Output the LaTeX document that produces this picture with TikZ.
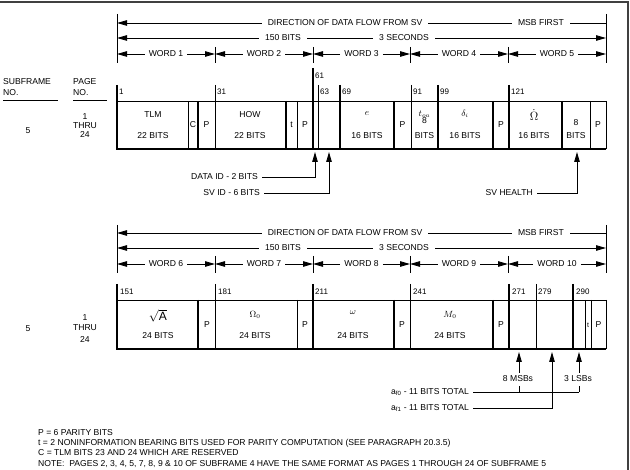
\documentclass[tikz,border=0pt]{standalone}
\usepackage{fontspec}
\setmainfont{Liberation Sans}
\usetikzlibrary{arrows.meta}
\begin{document}
\begin{tikzpicture}[x=1pt,y=-1pt,
  txt/.style={font=\fontsize{8.6}{10}\selectfont, inner sep=0pt},
  lbl/.style={txt, inner xsep=4pt},
  num/.style={font=\fontsize{8}{9}\selectfont, inner sep=0pt, anchor=west},
  big/.style={font=\fontsize{12}{14}\selectfont, inner sep=0pt},
  tip/.style={-{Triangle[length=10pt,width=5.5pt]}},
  ln/.style={line width=0.8pt},
  thk/.style={line width=1.4pt},
]
\useasboundingbox (0,0) rectangle (630,470);
% frame
\draw[line width=1.2pt, black!75] (0,2) -- (628,2) -- (628,470);

% ===== upper header =====
\draw[ln] (117,14) -- (117,63);
\draw[ln] (606,14) -- (606,63);
\foreach \x in {215,313,410,508} \draw[ln] (\x,47) -- (\x,63);
\node[lbl, inner xsep=6pt] (dirA) at (345,23) {DIRECTION OF DATA FLOW FROM SV};
\node[lbl, inner xsep=6pt] (msbA) at (541,23) {MSB FIRST};
\draw[ln, tip] (dirA.west) -- (117,23);
\draw[ln] (dirA.east) -- (msbA.west);
\draw[ln] (msbA.east) -- (606,23);
\node[lbl, inner xsep=6pt] (bitsA) at (283,38) {150 BITS};
\node[lbl, inner xsep=6pt] (secA) at (404,38) {3 SECONDS};
\draw[ln, tip] (bitsA.west) -- (117,38);
\draw[ln] (bitsA.east) -- (secA.west);
\draw[ln, tip] (secA.east) -- (606,38);
\foreach \n/\a/\b in {1/117/215, 2/215/313, 3/313/410, 4/410/508, 5/508/606} {
  \node[lbl] (wA\n) at ({(\a+\b)/2},54) {WORD \n};
  \draw[ln, tip] (wA\n.west) -- (\a,54);
  \draw[ln, tip] (wA\n.east) -- (\b,54);
}

% column headers
\node[txt, anchor=west] (sfh) at (3,82) {SUBFRAME};
\node[txt, anchor=west] (sfn) at (3,93) {NO.};
\node[txt, anchor=west] (pgh) at (73,82) {PAGE};
\node[txt, anchor=west] (pgn) at (73,93) {NO.};
\draw[ln] (3,100) -- (58,100);
\draw[ln] (73,100) -- (107,100);

% ===== upper box =====
\node[txt] (sfA) at (28,131) {5};
\node[txt] (pA1) at (85,117) {1};
\node[txt] (pA2) at (85,126) {THRU};
\node[txt] (pA3) at (85,135) {24};
\draw[ln] (117,101) -- (606,101);
\draw[line width=1.7pt] (116.3,149) -- (606.4,149);
\foreach \x/\t in {117/85, 198/101, 286/101, 313/68, 340/85, 394/101, 438/85, 493/101, 509/85, 562/101}
  \draw[thk] (\x,\t) -- (\x,149);
\foreach \x/\t in {188/101, 215/85, 297/101, 318/85, 411/85, 590/101, 606/101}
  \draw[ln] (\x,\t) -- (\x,149);
\node[num] (nA1) at (119,92) {1};
\node[num] (nA31) at (217,92) {31};
\node[num] (nA61) at (315,76) {61};
\node[num] (nA63) at (320,92) {63};
\node[num] (nA69) at (342,92) {69};
\node[num] (nA91) at (413,92) {91};
\node[num] (nA99) at (440,92) {99};
\node[num] (nA121) at (511,92) {121};
\node[txt] (tlm) at (153,115) {TLM};
\node[txt] (tlmb) at (153,136) {22 BITS};
\node[txt] (cA) at (193,125) {C};
\node[txt] (pAa) at (206.5,125) {P};
\node[txt] (how) at (250,115) {HOW};
\node[txt] (howb) at (250,136) {22 BITS};
\node[txt] (tA) at (291.5,125) {t};
\node[txt] (pAb) at (305,125) {P};
\node[txt] (ecc) at (367,114) {$e$};
\node[txt] (eccb) at (367,136) {16 BITS};
\node[txt] (pAc) at (402.5,125) {P};
\node[txt] (toa) at (424.5,114) {$t_{oa}$};
\node[txt] (toa8) at (424.5,121) {8};
\node[txt] (toab) at (424.5,136) {BITS};
\node[txt] (dli) at (465,114) {$\delta_i$};
\node[txt] (dlib) at (465,136) {16 BITS};
\node[txt] (pAd) at (501,125) {P};
\node[big, font=\fontsize{11.5}{13}\selectfont] (omd) at (534,115) {$\dot{\Omega}$};
\node[txt] (omdb) at (534,136) {16 BITS};
\node[txt] (h8) at (576,123) {8};
\node[txt] (h8b) at (576,136) {BITS};
\node[txt] (pAe) at (598,125) {P};

% pointers upper
\node[lbl, anchor=east] (dataid) at (262,177) {DATA ID - 2 BITS};
\node[lbl, anchor=east] (svid) at (264,193) {SV ID - 6 BITS};
\node[lbl, anchor=east] (svh) at (537,193) {SV HEALTH};
\draw[ln, tip] (dataid.east) -| (315,152);
\draw[ln, tip] (svid.east) -| (329,152);
\draw[ln, tip] (svh.east) -| (577,152);

% ===== lower header =====
\draw[ln] (117,225) -- (117,273);
\draw[ln] (606,225) -- (606,273);
\foreach \x in {215,313,410,508} \draw[ln] (\x,256) -- (\x,273);
\node[lbl, inner xsep=6pt] (dirB) at (345,233) {DIRECTION OF DATA FLOW FROM SV};
\node[lbl, inner xsep=6pt] (msbB) at (541,233) {MSB FIRST};
\draw[ln, tip] (dirB.west) -- (117,233);
\draw[ln] (dirB.east) -- (msbB.west);
\draw[ln] (msbB.east) -- (606,233);
\node[lbl, inner xsep=6pt] (bitsB) at (283,248) {150 BITS};
\node[lbl, inner xsep=6pt] (secB) at (404,248) {3 SECONDS};
\draw[ln, tip] (bitsB.west) -- (117,248);
\draw[ln] (bitsB.east) -- (secB.west);
\draw[ln, tip] (secB.east) -- (606,248);
\foreach \n/\a/\b in {6/117/215, 7/215/313, 8/313/410, 9/410/508, 10/508/606} {
  \node[lbl] (wB\n) at ({(\a+\b)/2},264) {WORD \n};
  \draw[ln, tip] (wB\n.west) -- (\a,264);
  \draw[ln, tip] (wB\n.east) -- (\b,264);
}

% ===== lower box =====
\node[txt] (sfB) at (28,329) {5};
\node[txt] (pB1) at (85,318) {1};
\node[txt] (pB2) at (85,328) {THRU};
\node[txt] (pB3) at (85,339) {24};
\draw[ln] (117,300) -- (606,300);
\draw[line width=1.7pt] (116.3,349) -- (606.4,349);
\foreach \x/\t in {117/284, 198/300, 313/284, 394/300, 493/300, 509/284, 573/284}
  \draw[thk] (\x,\t) -- (\x,349);
\foreach \x/\t in {215/284, 297/300, 410/284, 536/284, 585/300, 591/300, 606/300}
  \draw[ln] (\x,\t) -- (\x,349);
\node[num] (nB151) at (120,292) {151};
\node[num] (nB181) at (218,292) {181};
\node[num] (nB211) at (315,292) {211};
\node[num] (nB241) at (413,292) {241};
\node[num] (nB271) at (512,292) {271};
\node[num] (nB279) at (538,292) {279};
\node[num] (nB290) at (576,292) {290};
\node[big] (sqa) at (158,316) {$\sqrt{\mathrm{A}}$};
\node[txt] (sqab) at (158,336) {24 BITS};
\node[txt] (pBa) at (207,325) {P};
\node[txt] (om0) at (255,315) {$\Omega_0$};
\node[txt] (om0b) at (255,336) {24 BITS};
\node[txt] (pBb) at (305,325) {P};
\node[txt] (omg) at (353,313) {$\omega$};
\node[txt] (omgb) at (353,336) {24 BITS};
\node[txt] (pBc) at (402,325) {P};
\node[txt] (m0) at (450,315) {$M_0$};
\node[txt] (m0b) at (450,336) {24 BITS};
\node[txt] (pBd) at (501,325) {P};
\node[txt, font=\fontsize{7}{8}\selectfont] (tB) at (588,325) {t};
\node[txt] (pBe) at (598.5,325) {P};

% pointers lower
\node[txt] (msbs) at (518,379) {8 MSBs};
\node[txt] (lsbs) at (578,379) {3 LSBs};
\draw[ln, tip] (519,373) -- (519,352);
\draw[ln, tip] (579,373) -- (579,352);
\node[lbl, anchor=east] (af0) at (473,392) {a\textsubscript{f0} - 11 BITS TOTAL};
\node[lbl, anchor=east] (af1) at (473,408) {a\textsubscript{f1} - 11 BITS TOTAL};
\draw[ln] (af0.east) -- (579,392);
\draw[ln] (519,386) -- (519,392);
\draw[ln] (579,386) -- (579,392);
\draw[ln, tip] (af1.east) -| (552,352);

% legend
\node[txt, anchor=west] (lg1) at (38,433) {P = 6 PARITY BITS};
\node[txt, anchor=west] (lg2) at (38,443) {t = 2 NONINFORMATION BEARING BITS USED FOR PARITY COMPUTATION (SEE PARAGRAPH 20.3.5)};
\node[txt, anchor=west] (lg3) at (38,453) {C = TLM BITS 23 AND 24 WHICH ARE RESERVED};
\node[txt, anchor=west] (lg4) at (38,464) {NOTE:\ \ PAGES 2, 3, 4, 5, 7, 8, 9 \& 10 OF SUBFRAME 4 HAVE THE SAME FORMAT AS PAGES 1 THROUGH 24 OF SUBFRAME 5};
\end{tikzpicture}
\end{document}
